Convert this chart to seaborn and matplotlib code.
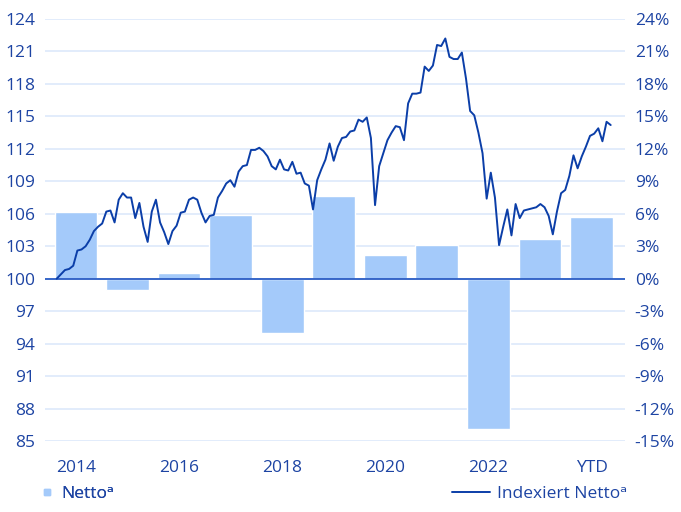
import numpy as np
import pandas as pd
import matplotlib
matplotlib.use("Agg")
import matplotlib.pyplot as plt
from matplotlib.lines import Line2D
import seaborn as sns

# ---------------- data ----------------
categories = ["2014", "2015", "2016", "2017", "2018", "2019", "2020", "2021", "2022", "2023", "YTD"]
netto_pct = [6.2, -1.0, 0.5, 5.9, -5.0, 7.6, 2.2, 3.1, -13.9, 3.7, 5.7]

indexed_netto = [
    100.0, 100.4, 100.8, 100.9, 101.2, 102.6, 102.7, 103.0, 103.6, 104.4, 104.8, 105.1,
    106.2, 106.3, 105.2, 107.3, 107.9, 107.5, 107.5, 105.6, 107.0, 104.8, 103.4, 106.2,
    107.3, 105.2, 104.3, 103.2, 104.4, 104.9, 106.1, 106.2, 107.3, 107.5, 107.3, 106.1,
    105.2, 105.8, 105.9, 107.5, 108.1, 108.8, 109.1, 108.5, 109.9, 110.4, 110.5, 111.9,
    111.9, 112.1, 111.8, 111.3, 110.4, 110.1, 111.0, 110.1, 110.0, 110.8, 109.7, 109.8,
    108.8, 108.6, 106.4, 109.1, 110.1, 111.0, 112.5, 110.9, 112.2, 113.0, 113.1, 113.6,
    113.7, 114.7, 114.5, 114.9, 113.0, 106.8, 110.4, 111.6, 112.8, 113.5, 114.1, 114.0,
    112.8, 116.2, 117.1, 117.1, 117.2, 119.6, 119.2, 119.7, 121.6, 121.5, 122.2, 120.5,
    120.3, 120.3, 120.9, 118.5, 115.5, 115.1, 113.5, 111.6, 107.4, 109.8, 107.5, 103.1,
    104.8, 106.4, 104.0, 106.9, 105.6, 106.3, 106.4, 106.5, 106.6, 106.9, 106.6, 105.8,
    104.1, 106.2, 107.9, 108.2, 109.5, 111.4, 110.2, 111.3, 112.2, 113.2, 113.4, 113.9,
    112.7, 114.5, 114.2,
]

x_tick_labels = ["2014", "2016", "2018", "2020", "2022", "YTD"]
left_ticks = list(range(85, 125, 3))
right_ticks = list(range(-15, 25, 3))

# ---------------- style ----------------
sns.set_style("white")
plt.rcParams["font.family"] = ["Open Sans", "DejaVu Sans"]

TEXT = "#1d44a3"
LINE = "#0b3ea8"
BAR = "#a4cafa"
GRID = "#dde9fb"
ZERO = "#2a5cc4"

fig = plt.figure(figsize=(6.81, 5.12), dpi=100)
pos = [45 / 681, 1 - 441 / 512, 580 / 681, 422 / 512]

# bars axis (right scale)
ax1 = fig.add_axes(pos)
df_bar = pd.DataFrame({"cat": categories, "val": netto_pct})
sns.barplot(data=df_bar, x="cat", y="val", order=categories, color=BAR,
            saturation=1, width=0.83, ax=ax1, zorder=2)
ax1.set_xlim(-0.6, 10.65)
ax1.set_ylim(-15, 24)
ax1.set_yticks(right_ticks)
ax1.set_yticklabels([f"{t}%" for t in right_ticks])
ax1.yaxis.tick_right()
ax1.set_xticks(range(0, 11, 2))
ax1.set_xticklabels(x_tick_labels)
ax1.set_xlabel("")
ax1.set_ylabel("")
ax1.grid(axis="y", color=GRID, linewidth=1.2, zorder=0)
ax1.set_axisbelow(True)
ax1.axhline(0, color=ZERO, linewidth=1.3, zorder=3)
ax1.tick_params(axis="y", length=0, pad=7, labelsize=12.5, labelcolor=TEXT)
ax1.tick_params(axis="x", length=0, pad=14, labelsize=12.5, labelcolor=TEXT)
for s in ax1.spines.values():
    s.set_visible(False)

# line axis (left scale)
ax2 = fig.add_axes(pos)
ax2.patch.set_alpha(0)
df_line = pd.DataFrame({"i": np.arange(len(indexed_netto)), "v": indexed_netto})
sns.lineplot(data=df_line, x="i", y="v", color=LINE, linewidth=1.4, ax=ax2)
ax2.set_xlim(-2.83, len(indexed_netto) - 1 + 3.46)
ax2.set_ylim(85, 124)
ax2.set_yticks(left_ticks)
ax2.set_xticks([])
ax2.set_xlabel("")
ax2.set_ylabel("")
ax2.tick_params(axis="y", length=0, pad=7, labelsize=12.5, labelcolor=TEXT)
for s in ax2.spines.values():
    s.set_visible(False)

# legends
h_bar = Line2D([], [], marker="s", linestyle="none", markersize=5,
               markerfacecolor=BAR, markeredgecolor=BAR)
h_line = Line2D([], [], color=LINE, linewidth=1.4)
leg1 = fig.legend([h_bar], ["Nettoᵃ"], loc="center left",
                  bbox_to_anchor=(40 / 681, 1 - 494 / 512), frameon=False,
                  fontsize=12.5, handlelength=0.8, handletextpad=0.4,
                  labelcolor=TEXT, borderpad=0, borderaxespad=0)
leg2 = fig.legend([h_line], ["Indexiert Nettoᵃ"], loc="center right",
                  bbox_to_anchor=(627 / 681, 1 - 494 / 512), frameon=False,
                  fontsize=12.5, handlelength=2.2, handletextpad=0.4,
                  labelcolor=TEXT, borderpad=0, borderaxespad=0)
fig.add_artist(leg1)

fig.savefig("out.png", dpi=100)
